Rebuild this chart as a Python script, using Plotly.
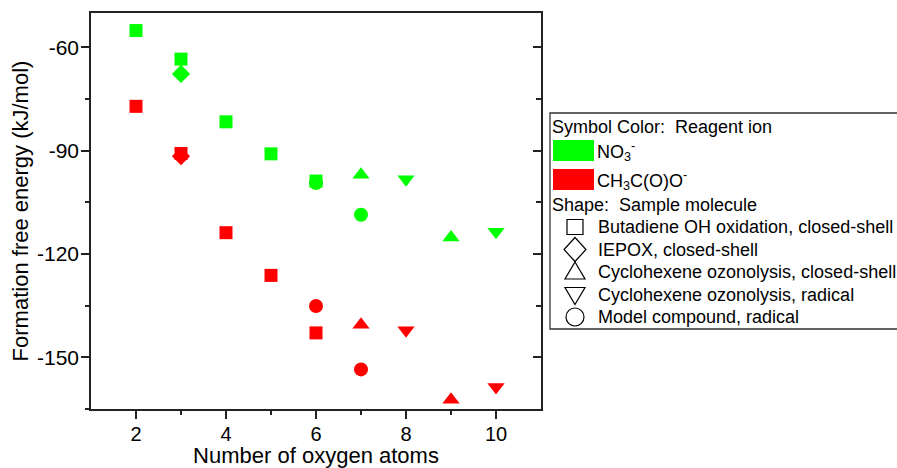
import plotly.graph_objects as go

# ---------------- data ----------------
GREEN = "#00ff00"
RED = "#ff0000"

# NO3- reagent ion
no3_square_x = [2, 3, 4, 5, 6]
no3_square_y = [-55.1, -63.4, -81.6, -90.9, -98.8]
no3_diamond_x = [3]
no3_diamond_y = [-67.7]
no3_triup_x = [7, 9]
no3_triup_y = [-97.0, -115.2]
no3_tridown_x = [8, 10]
no3_tridown_y = [-98.3, -113.5]
no3_circle_x = [6, 7]
no3_circle_y = [-99.4, -108.6]

# CH3C(O)O- reagent ion
ac_square_x = [2, 3, 4, 5, 6]
ac_square_y = [-77.1, -90.8, -113.8, -126.2, -142.9]
ac_diamond_x = [3]
ac_diamond_y = [-91.6]
ac_triup_x = [7, 9]
ac_triup_y = [-140.5, -162.3]
ac_tridown_x = [8, 10]
ac_tridown_y = [-142.1, -158.6]
ac_circle_x = [6, 7]
ac_circle_y = [-135.1, -153.5]

x_ticks = [2, 4, 6, 8, 10]
y_ticks = [-60, -90, -120, -150]

shape_labels = [
    "Butadiene OH oxidation, closed-shell",
    "IEPOX, closed-shell",
    "Cyclohexene ozonolysis, closed-shell",
    "Cyclohexene ozonolysis, radical",
    "Model compound, radical",
]

# ---------------- layout geometry ----------------
W, H = 897, 468
L, R, T, B = 91, 541, 13, 409
FONT = "Arial, Liberation Sans, sans-serif"


def X(px):
    return (px - L) / (R - L)


def Y(py):
    return (B - py) / (B - T)


fig = go.Figure()

series = [
    (no3_square_x, no3_square_y, "square", 13, GREEN),
    (ac_square_x, ac_square_y, "square", 13, RED),
    (no3_diamond_x, no3_diamond_y, "diamond", 14, GREEN),
    (ac_diamond_x, ac_diamond_y, "diamond", 14, RED),
    (no3_circle_x, no3_circle_y, "circle", 14, GREEN),
    (ac_circle_x, ac_circle_y, "circle", 14, RED),
    (no3_triup_x, no3_triup_y, "triangle-up", 15, GREEN),
    (ac_triup_x, ac_triup_y, "triangle-up", 15, RED),
    (no3_tridown_x, no3_tridown_y, "triangle-down", 15, GREEN),
    (ac_tridown_x, ac_tridown_y, "triangle-down", 15, RED),
]
for xs, ys, sym, size, col in series:
    fig.add_trace(go.Scatter(
        x=xs, y=ys, mode="markers",
        marker=dict(symbol=sym, size=size, color=col, line=dict(width=0)),
        showlegend=False, hoverinfo="skip",
    ))

# dummy trace for right-hand y axis (inward ticks)
fig.add_trace(go.Scatter(x=[], y=[], yaxis="y2", showlegend=False))

axis_col = "#222222"
fig.update_layout(
    width=W, height=H,
    margin=dict(l=L, r=W - R, t=T, b=H - B, autoexpand=False),
    paper_bgcolor="white", plot_bgcolor="white",
    font=dict(family=FONT, color="black"),
    xaxis=dict(
        range=[1, 11], tickvals=x_ticks, ticktext=[str(v) for v in x_ticks],
        ticks="outside", ticklen=8, tickwidth=1.5, tickcolor=axis_col,
        minor=dict(tickvals=[3, 5, 7, 9], ticks="outside", ticklen=4, tickwidth=1.5, tickcolor=axis_col),
        showline=True, linecolor=axis_col, linewidth=1.6, mirror=True,
        showgrid=False, zeroline=False, automargin=False,
        tickfont=dict(size=20), ticklabelstandoff=-2,
        title=dict(text="Number of oxygen atoms", font=dict(size=22), standoff=0),
    ),
    yaxis=dict(
        range=[-165, -50], tickvals=y_ticks, ticktext=[str(v) for v in y_ticks],
        ticks="outside", ticklen=8, tickwidth=1.5, tickcolor=axis_col,
        minor=dict(tickvals=[-75, -105, -135, -165], ticks="outside", ticklen=4, tickwidth=1.5, tickcolor=axis_col),
        showline=True, linecolor=axis_col, linewidth=1.6, mirror=True,
        showgrid=False, zeroline=False, automargin=False,
        tickfont=dict(size=21), ticklabelstandoff=-2,
        title=dict(text="Formation free energy (kJ/mol)", font=dict(size=22), standoff=2),
    ),
    yaxis2=dict(
        range=[-165, -50], overlaying="y", side="right",
        tickvals=y_ticks, showticklabels=False, automargin=False,
        ticks="inside", ticklen=8, tickwidth=1.5, tickcolor=axis_col,
        minor=dict(tickvals=[-75, -105, -135, -165], ticks="inside", ticklen=5, tickwidth=1.5, tickcolor=axis_col),
        showline=False, showgrid=False, zeroline=False,
    ),
)

# ---------------- hand-drawn legend box ----------------
shapes = []
annos = []
shapes.append(dict(type="rect", xref="paper", yref="paper",
                   x0=X(550), x1=X(905), y0=Y(329), y1=Y(113),
                   line=dict(color="#333333", width=1.3), fillcolor="white", layer="above"))


def text(px, py, s, size=18):
    annos.append(dict(xref="paper", yref="paper", x=X(px), y=Y(py), text=s,
                      xanchor="left", yanchor="middle", showarrow=False,
                      font=dict(size=size, color="black", family=FONT), borderpad=0))


text(551, 127, "Symbol Color:\u00a0 Reagent ion")
shapes.append(dict(type="rect", xref="paper", yref="paper", x0=X(553), x1=X(594), y0=Y(161), y1=Y(140),
                   fillcolor=GREEN, line=dict(width=0), layer="above"))
text(596, 151, "NO<sub>3</sub><sup>-</sup>")
shapes.append(dict(type="rect", xref="paper", yref="paper", x0=X(553), x1=X(594), y0=Y(190), y1=Y(169),
                   fillcolor=RED, line=dict(width=0), layer="above"))
text(596, 180, "CH<sub>3</sub>C(O)O<sup>-</sup>")
text(551, 205, "Shape:\u00a0 Sample molecule")

rows = [227, 249.5, 272, 294.5, 317]
for ry, lab in zip(rows, shape_labels):
    text(597, ry, lab)

cx = 575
lw = dict(color="black", width=1.2)


def path(points):
    return "M " + " L ".join(f"{X(a):.5f},{Y(b):.5f}" for a, b in points) + " Z"


# square
shapes.append(dict(type="rect", xref="paper", yref="paper", x0=X(cx - 8), x1=X(cx + 8),
                   y0=Y(rows[0] + 7.5), y1=Y(rows[0] - 7.5), line=lw, layer="above"))
# diamond
shapes.append(dict(type="path", xref="paper", yref="paper", layer="above", line=lw,
                   path=path([(cx, rows[1] - 12), (cx + 11, rows[1]), (cx, rows[1] + 12), (cx - 11, rows[1])])))
# triangle up
shapes.append(dict(type="path", xref="paper", yref="paper", layer="above", line=lw,
                   path=path([(cx, rows[2] - 10), (cx + 10, rows[2] + 7), (cx - 10, rows[2] + 7)])))
# triangle down
shapes.append(dict(type="path", xref="paper", yref="paper", layer="above", line=lw,
                   path=path([(cx, rows[3] + 10), (cx + 10, rows[3] - 7), (cx - 10, rows[3] - 7)])))
# circle
shapes.append(dict(type="circle", xref="paper", yref="paper", layer="above", line=lw,
                   x0=X(cx - 9), x1=X(cx + 9), y0=Y(rows[4] + 9), y1=Y(rows[4] - 9)))

fig.update_layout(shapes=shapes, annotations=annos)

fig.write_html("out.html")
